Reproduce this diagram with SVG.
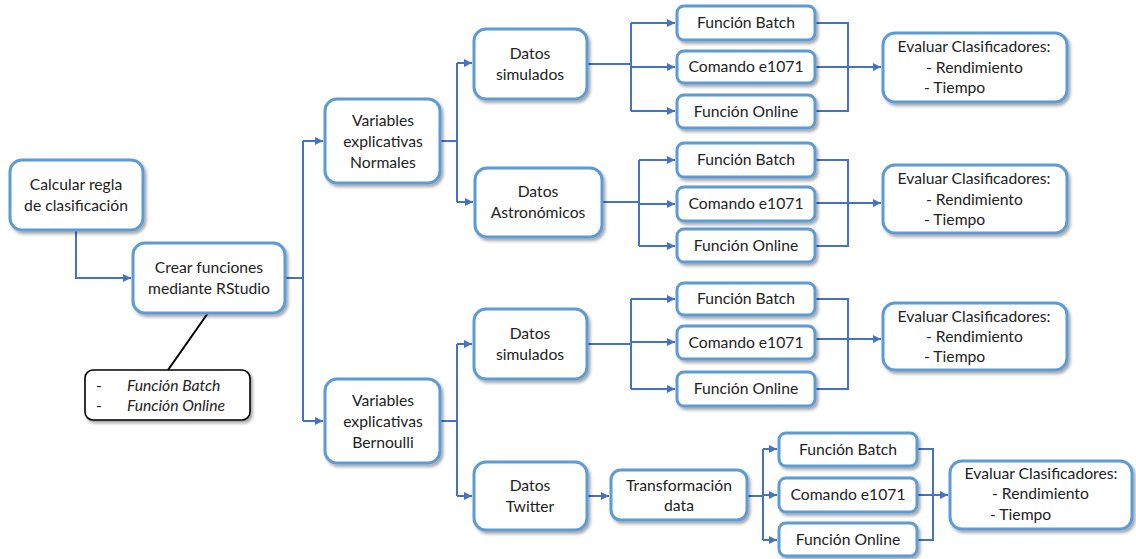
<svg xmlns="http://www.w3.org/2000/svg" width="1136" height="559" viewBox="0 0 1136 559">
<defs>
<filter id="sh" x="-10%" y="-10%" width="130%" height="140%">
<feDropShadow dx="2" dy="2.5" stdDeviation="1.6" flood-color="#000" flood-opacity="0.35"/>
</filter>
<marker id="ar" markerUnits="userSpaceOnUse" markerWidth="9" markerHeight="9" refX="8" refY="4" orient="auto">
<path d="M0,0 L8,4 L0,8 z" fill="#4472C4"/>
</marker>
</defs>
<style>
.b{fill:#fff;stroke:#5B9BD5;stroke-width:3;filter:url(#sh)}
.n{fill:#fff;stroke:#000;stroke-width:1.6;filter:url(#sh)}
.c{fill:none;stroke:#4472C4;stroke-width:2}
.a{fill:none;stroke:#4472C4;stroke-width:2;marker-end:url(#ar)}
text{font-family:Lato,"Liberation Sans",sans-serif;font-size:15.7px;fill:#222}
.m{text-anchor:middle}
.i{font-style:italic}
</style>
<g id="connectors">
<path class="a" d="M76,230 V278 H131"/>
<path class="c" d="M208,313 L168,370" style="stroke:#000"/>
<path class="c" d="M285,278 H303"/>
<path class="c" d="M303,141 V421"/>
<path class="a" d="M303,141 H323"/>
<path class="a" d="M303,421 H323"/>
<path class="c" d="M440,141 H457"/>
<path class="c" d="M457,63 V202"/>
<path class="a" d="M457,63 H472"/>
<path class="a" d="M457,202 H473"/>
<path class="c" d="M587,64 H631"/>
<path class="c" d="M631,23 V111"/>
<path class="a" d="M631,23 H675"/>
<path class="a" d="M631,67 H675"/>
<path class="a" d="M631,111 H675"/>
<path class="c" d="M815,23 H848 V111 H815"/>
<path class="a" d="M815,67 H881"/>
<path class="c" d="M602,202 H639"/>
<path class="c" d="M639,160 V246"/>
<path class="a" d="M639,160 H675"/>
<path class="a" d="M639,204 H675"/>
<path class="a" d="M639,246 H675"/>
<path class="c" d="M815,160 H848 V246 H815"/>
<path class="a" d="M815,203 H881"/>
<path class="c" d="M440,421 H457"/>
<path class="c" d="M457,344 V496"/>
<path class="a" d="M457,344 H472"/>
<path class="a" d="M457,496 H472"/>
<path class="c" d="M587,344 H631"/>
<path class="c" d="M631,299 V389"/>
<path class="a" d="M631,299 H675"/>
<path class="a" d="M631,342 H675"/>
<path class="a" d="M631,389 H675"/>
<path class="c" d="M815,299 H848 V389 H815"/>
<path class="a" d="M815,339 H881"/>
<path class="a" d="M587,496 H609"/>
<path class="c" d="M747,496 H763"/>
<path class="c" d="M763,449 V540"/>
<path class="a" d="M763,449 H777"/>
<path class="a" d="M763,495 H777"/>
<path class="a" d="M763,540 H777"/>
<path class="c" d="M917,449 H933 V540 H917"/>
<path class="a" d="M917,495 H948"/>
</g>
<g id="calcular"><rect class="b" x="10" y="160" width="133" height="70" rx="12"/>
<text class="m" x="76" y="190">Calcular regla</text><text class="m" x="76" y="211">de clasificación</text></g>
<g id="crear"><rect class="b" x="133" y="243" width="152" height="70" rx="12"/>
<text class="m" x="209" y="273">Crear funciones</text><text class="m" x="209" y="294">mediante RStudio</text></g>
<g id="nota"><rect class="n" x="85" y="370" width="165" height="50" rx="8"/>
<text x="96" y="391">-</text><text class="i" x="127" y="391">Función Batch</text>
<text x="96" y="411">-</text><text class="i" x="127" y="411">Función Online</text></g>
<g id="normales"><rect class="b" x="325" y="99" width="115" height="84" rx="12"/>
<text class="m" x="383" y="126">Variables</text><text class="m" x="383" y="147">explicativas</text><text class="m" x="383" y="168">Normales</text></g>
<g id="simulados1"><rect class="b" x="474" y="29" width="113" height="70" rx="12"/>
<text class="m" x="530" y="59">Datos</text><text class="m" x="530" y="80">simulados</text></g>
<g id="astronomicos"><rect class="b" x="475" y="168" width="127" height="69" rx="12"/>
<text class="m" x="538" y="197">Datos</text><text class="m" x="538" y="218">Astronómicos</text></g>
<g id="batch1"><rect class="b" x="677" y="6" width="138" height="34" rx="7"/><text class="m" x="746" y="28">Función Batch</text></g>
<g id="comando1"><rect class="b" x="677" y="51" width="138" height="32" rx="7"/><text class="m" x="746" y="72">Comando e1071</text></g>
<g id="online1"><rect class="b" x="677" y="95" width="138" height="33" rx="7"/><text class="m" x="746" y="117">Función Online</text></g>
<g id="batch2"><rect class="b" x="677" y="143" width="138" height="34" rx="7"/><text class="m" x="746" y="165">Función Batch</text></g>
<g id="comando2"><rect class="b" x="677" y="187" width="138" height="34" rx="7"/><text class="m" x="746" y="209">Comando e1071</text></g>
<g id="online2"><rect class="b" x="677" y="229" width="138" height="33" rx="7"/><text class="m" x="746" y="251">Función Online</text></g>
<g id="evaluar1"><rect class="b" x="883" y="33" width="184" height="69" rx="12"/>
<text class="m" x="974" y="52">Evaluar Clasificadores:</text><text x="926" y="73">- Rendimiento</text><text x="924" y="93">- Tiempo</text></g>
<g id="evaluar2"><rect class="b" x="883" y="165" width="184" height="68" rx="12"/>
<text class="m" x="974" y="184">Evaluar Clasificadores:</text><text x="926" y="205">- Rendimiento</text><text x="924" y="225">- Tiempo</text></g>
<g id="bernoulli"><rect class="b" x="325" y="379" width="115" height="84" rx="12"/>
<text class="m" x="383" y="406">Variables</text><text class="m" x="383" y="427">explicativas</text><text class="m" x="383" y="448">Bernoulli</text></g>
<g id="simulados2"><rect class="b" x="474" y="309" width="113" height="70" rx="12"/>
<text class="m" x="530" y="339">Datos</text><text class="m" x="530" y="360">simulados</text></g>
<g id="twitter"><rect class="b" x="474" y="462" width="113" height="68" rx="12"/>
<text class="m" x="530" y="491">Datos</text><text class="m" x="530" y="512">Twitter</text></g>
<g id="batch3"><rect class="b" x="677" y="283" width="138" height="32" rx="7"/><text class="m" x="746" y="304">Función Batch</text></g>
<g id="comando3"><rect class="b" x="677" y="326" width="138" height="33" rx="7"/><text class="m" x="746" y="348">Comando e1071</text></g>
<g id="online3"><rect class="b" x="677" y="372" width="138" height="34" rx="7"/><text class="m" x="746" y="394">Función Online</text></g>
<g id="evaluar3"><rect class="b" x="883" y="303" width="184" height="67" rx="12"/>
<text class="m" x="974" y="322">Evaluar Clasificadores:</text><text x="926" y="342">- Rendimiento</text><text x="924" y="362">- Tiempo</text></g>
<g id="transformacion"><rect class="b" x="611" y="470" width="136" height="50" rx="10"/>
<text class="m" x="679" y="491">Transformación</text><text class="m" x="679" y="511">data</text></g>
<g id="batch4"><rect class="b" x="779" y="433" width="138" height="33" rx="7"/><text class="m" x="848" y="455">Función Batch</text></g>
<g id="comando4"><rect class="b" x="779" y="478" width="138" height="34" rx="7"/><text class="m" x="848" y="500">Comando e1071</text></g>
<g id="online4"><rect class="b" x="779" y="523" width="138" height="33" rx="7"/><text class="m" x="848" y="545">Función Online</text></g>
<g id="evaluar4"><rect class="b" x="950" y="461" width="182" height="68" rx="12"/>
<text class="m" x="1041" y="479">Evaluar Clasificadores:</text><text x="992" y="499">- Rendimiento</text><text x="990" y="520">- Tiempo</text></g>
</svg>
